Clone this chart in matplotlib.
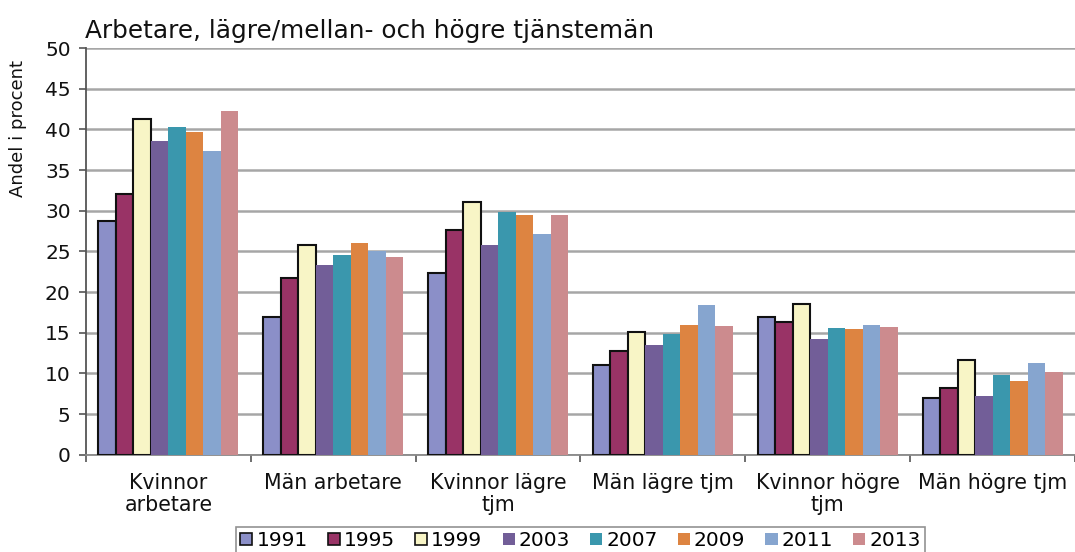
import matplotlib
matplotlib.use("Agg")
import matplotlib.pyplot as plt
import numpy as np
from matplotlib.patches import Patch

categories = ["Kvinnor\narbetare", "Män arbetare", "Kvinnor lägre\ntjm",
              "Män lägre tjm", "Kvinnor högre\ntjm", "Män högre tjm"]
years = ["1991", "1995", "1999", "2003", "2007", "2009", "2011", "2013"]
v1991 = [28.7, 17.0, 22.4, 11.1, 16.9, 7.0]
v1995 = [32.1, 21.7, 27.6, 12.8, 16.3, 8.2]
v1999 = [41.3, 25.8, 31.1, 15.1, 18.6, 11.7]
v2003 = [38.6, 23.3, 25.8, 13.5, 14.2, 7.2]
v2007 = [40.3, 24.6, 29.9, 14.9, 15.6, 9.8]
v2009 = [39.7, 26.0, 29.5, 15.9, 15.5, 9.1]
v2011 = [37.3, 25.1, 27.1, 18.4, 15.9, 11.3]
v2013 = [42.3, 24.3, 29.5, 15.8, 15.7, 10.2]
series = [v1991, v1995, v1999, v2003, v2007, v2009, v2011, v2013]
colors = ["#8B8FC8", "#993366", "#F8F5C6", "#725E98", "#3A97AD",
          "#DD8441", "#86A5CF", "#CC8B8E"]
edged = [True, True, True, False, False, False, False, False]

plt.rcParams['font.family'] = ['DejaVu Sans']

fig = plt.figure(figsize=(10.75, 5.52), dpi=100)
ax = fig.add_axes([0.080, 0.176, 0.920, 0.737])

x = np.arange(len(categories))
n = len(series)
bw = 0.85 / n
for i, (vals, c, e) in enumerate(zip(series, colors, edged)):
    off = (i - (n - 1) / 2) * bw
    ax.bar(x + off, vals, width=bw, color=c,
           edgecolor="#111111" if e else c,
           linewidth=1.5 if e else 0, zorder=3)

ax.set_xlim(-0.5, len(categories) - 0.5)
ax.set_ylim(0, 50)
ax.set_yticks(np.arange(0, 51, 5))
ax.yaxis.grid(True, color="#A6A6A6", linewidth=1.8, zorder=0)
ax.set_axisbelow(True)

ax.set_xticks(x)
ax.set_xticklabels(categories, fontsize=14.8, color="#111111", linespacing=1.12)
ax.set_xticks(np.arange(-0.5, len(categories) + 0.5, 1), minor=True)
ax.tick_params(axis="x", which="major", length=0, pad=13)
ax.tick_params(axis="x", which="minor", length=5, width=1.2, color="#555555", direction="out")
ax.tick_params(axis="y", length=5, width=1.2, color="#555555", labelsize=14.5,
               labelcolor="#111111", pad=6)

for s in ["top", "right"]:
    ax.spines[s].set_visible(False)
ax.spines["left"].set_color("#555555")
ax.spines["left"].set_linewidth(1.3)
ax.spines["bottom"].set_color("#888888")
ax.spines["bottom"].set_linewidth(1.3)

fig.text(0.017, 0.768, "Andel i procent", fontsize=13, rotation=90,
         ha="center", va="center", color="#111111")
fig.text(0.079, 0.932, "Arbetare, lägre/mellan- och högre tjänstemän",
         fontsize=17.8, ha="left", va="baseline", color="#111111")

handles = [Patch(facecolor=c, edgecolor="#111111" if e else c, linewidth=1.2 if e else 0)
           for c, e in zip(colors, edged)]
leg = fig.legend(handles, years, loc="upper center", bbox_to_anchor=(0.54, 0.045),
                 ncol=8, fontsize=14.5, frameon=True, fancybox=False,
                 handlelength=0.6, handleheight=0.6, handletextpad=0.2,
                 columnspacing=1.0, borderpad=0.2, borderaxespad=0)
leg.get_frame().set_edgecolor("#777777")
leg.get_frame().set_linewidth(1.2)

fig.savefig("out.png", dpi=100)
